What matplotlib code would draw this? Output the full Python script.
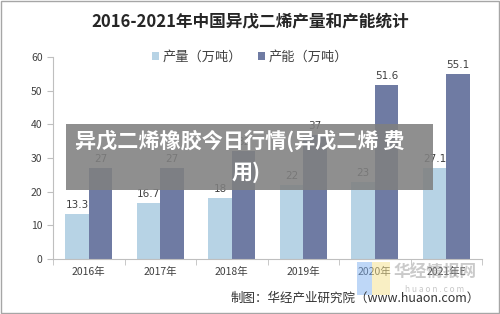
import numpy as np
import matplotlib
matplotlib.use("Agg")
import matplotlib.pyplot as plt
from matplotlib.patches import Rectangle, Polygon

plt.rcParams['font.family'] = ['Noto Sans CJK SC', 'DejaVu Sans']

years = ["2016年", "2017年", "2018年", "2019年", "2020年", "2021年E"]
output = [13.3, 16.7, 18, 22, 23, 27.1]
capacity = [27, 27, 32, 37, 51.6, 55.1]
output_labels = ["13.3", "16.7", "18", "22", "23", "27.1"]
capacity_labels = ["27", "27", "32", "37", "51.6", "55.1"]

light = '#b7d3e5'
dark = '#6f7ba3'
text_c = '#404040'

fig = plt.figure(figsize=(5, 3.14), dpi=100)
ax = fig.add_axes([0.106, 0.175, 0.858, 0.643])

x = np.arange(len(years))
w = 0.33
b1 = ax.bar(x - w / 2, output, w, color=light, label='产量（万吨）')
b2 = ax.bar(x + w / 2, capacity, w, color=dark, label='产能（万吨）')

for bars, labs in [(b1, output_labels), (b2, capacity_labels)]:
    for rect, lab in zip(bars, labs):
        ax.text(rect.get_x() + rect.get_width() / 2, rect.get_height() + 1.2, lab,
                ha='center', va='bottom', fontsize=7.5, color=text_c,
                family=['DejaVu Sans'])

ax.set_ylim(0, 60)
ax.set_xlim(-0.5, len(years) - 0.5)
ax.set_yticks(range(0, 61, 10))
ax.tick_params(axis='y', labelsize=7.5, colors='#bfbfbf', labelcolor=text_c, length=4)
ax.set_xticks(x)
ax.set_xticklabels(years, fontsize=7.5, color=text_c)
ax.tick_params(axis='x', length=0, pad=6)
ax.set_xticks(np.arange(-0.5, len(years), 1), minor=True)
ax.tick_params(axis='x', which='minor', length=4, color='#bfbfbf')
for s in ['top', 'right']:
    ax.spines[s].set_visible(False)
for s in ['left', 'bottom']:
    ax.spines[s].set_color('#bfbfbf')

fig.text(0.5, 1 - 22 / 314, "2016-2021年中国异戊二烯产量和产能统计",
         ha='center', va='center', fontsize=12, fontweight='bold', color='#262626')

fig.legend(handles=[b1, b2], loc='center', bbox_to_anchor=(0.5, 1 - 57 / 314), ncol=2,
           frameon=False, fontsize=9.5, handlelength=0.5, handleheight=0.5,
           handletextpad=0.3, columnspacing=1.2, labelcolor=text_c)

# overlay banner
fig.patches.append(Rectangle((66 / 500, 1 - 190 / 314), (433 - 66) / 500, 66 / 314,
                             transform=fig.transFigure, facecolor='#808080',
                             alpha=0.88, edgecolor='none', zorder=5))
fig.text(75 / 500, 1 - 141 / 314, "异戊二烯橡胶今日行情(异戊二烯 费", ha='left', va='center',
         fontsize=15.2, fontweight='bold', color='white', zorder=6)
fig.text(246 / 500, 1 - 172 / 314, "用)", ha='center', va='center',
         fontsize=15.2, fontweight='bold', color='white', zorder=6)

# watermark
fig.patches.append(Polygon([(357 / 500, 1 - 262 / 314), (372 / 500, 1 - 262 / 314),
                            (372 / 500, 1 - 295 / 314), (357 / 500, 1 - 295 / 314)],
                           closed=True, transform=fig.transFigure, facecolor='#7fb0f0',
                           alpha=0.5, edgecolor='none', zorder=4))
fig.patches.append(Polygon([(372 / 500, 1 - 262 / 314), (390 / 500, 1 - 262 / 314),
                            (390 / 500, 1 - 295 / 314), (372 / 500, 1 - 295 / 314)],
                           closed=True, transform=fig.transFigure, facecolor='#f5e08a',
                           alpha=0.5, edgecolor='none', zorder=4))
fig.text(435 / 500, 1 - 273 / 314, "华经情报网", ha='center', va='center',
         fontsize=12, fontweight='bold', color='#a0a0a0', alpha=0.55, zorder=4)
fig.text(435 / 500, 1 - 289 / 314, "h u a o n . c o m", ha='center', va='center',
         fontsize=6, color='#b0b0b0', alpha=0.7, zorder=4)

fig.text(480 / 500, 1 - 298 / 314, "制图：华经产业研究院（www.huaon.com）", ha='right',
         va='center', fontsize=9, color='#333333', zorder=7)

fig.patches.append(Rectangle((0.002, 0.003), 0.996, 0.994, transform=fig.transFigure,
                             facecolor='none', edgecolor='#a6a6a6', linewidth=1))

fig.savefig("out.png", dpi=100)
